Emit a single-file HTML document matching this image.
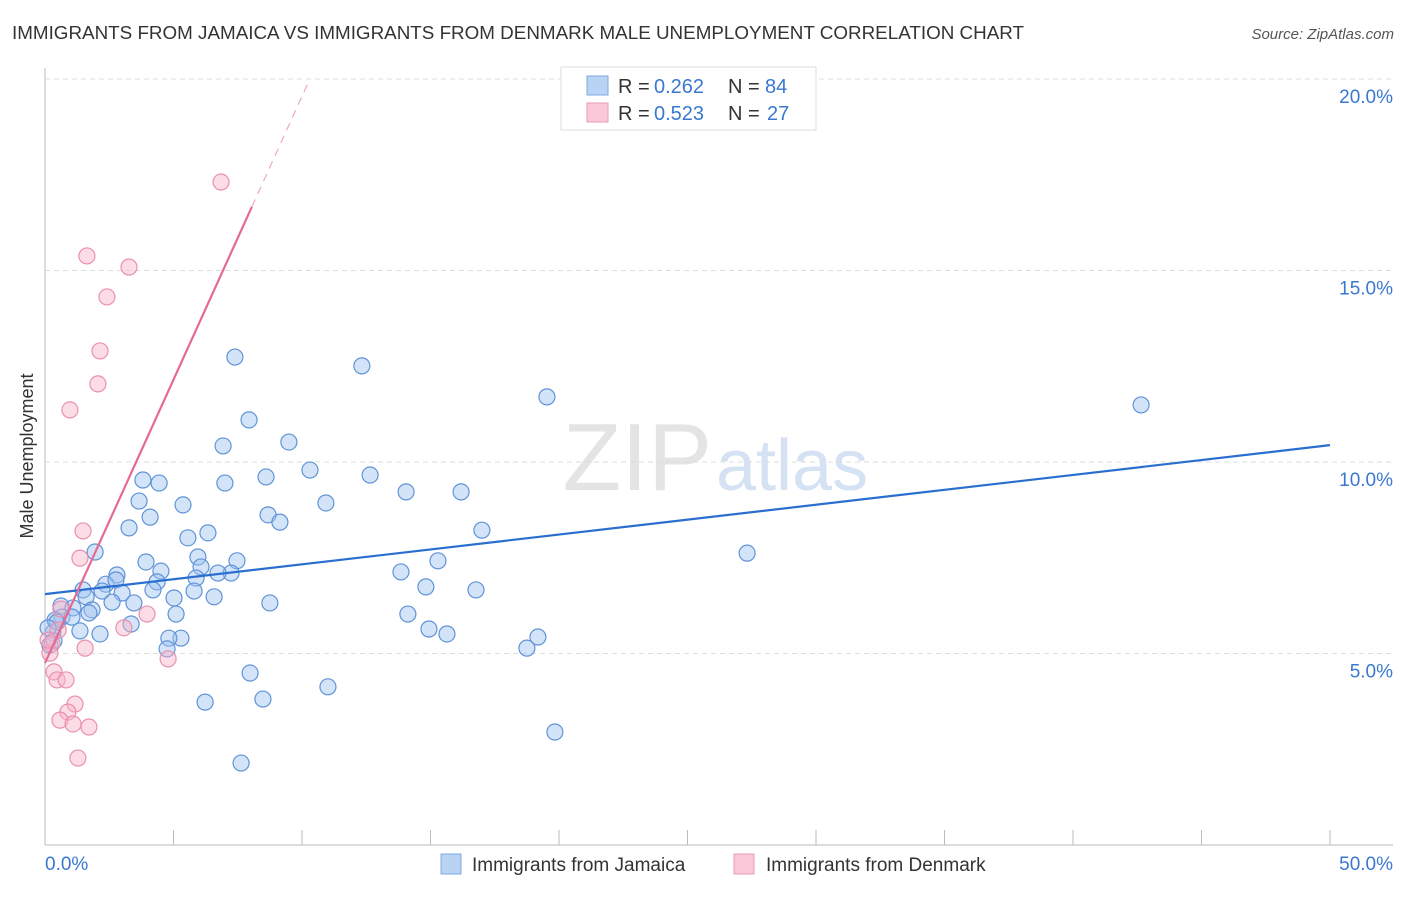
<!DOCTYPE html>
<html><head><meta charset="utf-8"><style>
body{margin:0;background:#fff;font-family:"Liberation Sans",sans-serif}
svg text{font-family:"Liberation Sans",sans-serif}
</style></head><body>
<svg id="chart" width="1406" height="892">
<text x="12" y="39" font-size="18" fill="#333" textLength="1012" lengthAdjust="spacingAndGlyphs">IMMIGRANTS FROM JAMAICA VS IMMIGRANTS FROM DENMARK MALE UNEMPLOYMENT CORRELATION CHART</text>
<text x="1394" y="39" font-size="15" fill="#555" text-anchor="end" font-style="italic">Source: ZipAtlas.com</text>
<text transform="translate(33,456) rotate(-90)" font-size="18" fill="#333" text-anchor="middle">Male Unemployment</text>
<text x="712" y="490" font-size="96" fill="#e4e4e4" text-anchor="end" font-family="Liberation Serif">ZIP</text>
<text x="716" y="490" font-size="72" fill="#d4e2f4">atlas</text>
<g id="grid"></g><g id="marks"></g>
<g>
<rect x="561" y="67" width="255" height="63" fill="#fff" stroke="#ddd"/>
<rect x="587" y="76" width="21" height="19" fill="#b9d3f5" stroke="#7ea8e0"/>
<rect x="587" y="103" width="21" height="19" fill="#fac8d8" stroke="#eb9bb6"/>
<text x="618" y="93" font-size="20" fill="#333">R =</text><text x="654" y="93" font-size="20" fill="#3a78d0">0.262</text>
<text x="728" y="93" font-size="20" fill="#333">N =</text><text x="765" y="93" font-size="20" fill="#3a78d0">84</text>
<text x="618" y="120" font-size="20" fill="#333">R =</text><text x="654" y="120" font-size="20" fill="#3a78d0">0.523</text>
<text x="728" y="120" font-size="20" fill="#333">N =</text><text x="767" y="120" font-size="20" fill="#3a78d0">27</text>
</g>
<g>
<rect x="441" y="854" width="20" height="20" fill="#b9d3f5" stroke="#7ea8e0"/>
<text x="472" y="871" font-size="19" fill="#333">Immigrants from Jamaica</text>
<rect x="734" y="854" width="20" height="20" fill="#fac8d8" stroke="#eb9bb6"/>
<text x="766" y="871" font-size="19" fill="#333">Immigrants from Denmark</text>
</g>
</svg>
<script>
const xTicks=[0,5,10,15,20,25,30,35,40,45,50];
const yTicks=[5,10,15,20];
const blueX=[7.39,12.33,19.53,42.65,7.94,6.93,9.49,10.31,12.65,8.60,7.00,3.81,4.44,14.05,16.19,5.37,10.93,3.66,8.68,9.14,4.09,3.27,17.00,6.34,5.56,1.95,27.32,5.95,3.93,7.47,15.29,4.51,2.80,6.07,7.24,6.73,13.85,4.36,2.37,1.48,5.88,2.76,4.20,14.82,16.77,3.00,2.22,5.80,5.02,6.58,1.60,3.46,2.61,1.83,8.75,0.62,1.09,5.10,14.12,0.66,1.05,0.39,1.71,3.35,1.36,2.14,14.94,15.64,5.29,4.82,19.18,18.75,4.75,0.31,0.19,0.35,7.98,11.01,6.23,8.48,19.84,7.63,0.47,0.12];
const blueY=[12.74,12.51,11.70,11.49,11.10,10.42,10.52,9.79,9.66,9.61,9.45,9.53,9.45,9.22,9.22,8.88,8.93,8.98,8.62,8.43,8.56,8.28,8.22,8.15,8.02,7.65,7.62,7.52,7.39,7.42,7.42,7.15,7.05,7.26,7.10,7.10,7.13,6.87,6.81,6.66,6.97,6.92,6.66,6.74,6.66,6.58,6.63,6.63,6.45,6.48,6.48,6.32,6.34,6.14,6.32,6.24,6.19,6.03,6.03,5.95,5.95,5.87,6.06,5.77,5.59,5.51,5.64,5.51,5.40,5.40,5.43,5.14,5.12,5.54,5.22,5.33,4.49,4.13,3.73,3.81,2.95,2.14,5.82,5.67];
const pinkX=[6.85,1.63,3.27,2.41,2.14,2.06,0.97,1.48,1.36,0.62,3.07,3.97,1.56,4.79,0.27,0.35,0.47,0.82,1.17,0.89,0.58,1.09,1.71,1.28,0.19,0.51,0.12];
const pinkY=[17.31,15.38,15.09,14.31,12.90,12.04,11.36,8.20,7.49,6.16,5.67,6.03,5.14,4.86,5.25,4.52,4.31,4.31,3.68,3.47,3.26,3.16,3.08,2.27,5.01,5.61,5.35];
const blueTrend=[6.55,0.0778];
const pinkTrend=[4.75,1.48];
const pinkSolidEnd=8.05, pinkDashEnd=10.2;
const X=v=>45+v*25.7, Y=v=>845-v*38.3;
const NS='http://www.w3.org/2000/svg';
function mk(t,a,p){const e=document.createElementNS(NS,t);for(const k in a)e.setAttribute(k,a[k]);p.appendChild(e);return e;}
const grid=document.getElementById('grid'), marks=document.getElementById('marks');
let ax=mk('line',{x1:45,y1:68,x2:45,y2:845,stroke:'#bbb'},grid);


let bx=mk('line',{x1:45,y1:845,x2:1393,y2:845,stroke:'#bbb'},grid);


yTicks.forEach(t=>{
 const g=mk('line',{x1:45,x2:1393,y1:Y(t),y2:Y(t),stroke:'#ddd','stroke-dasharray':'5,4'},grid);
 
 
 const l=mk('text',{x:1393,y:Y(t)+24,'font-size':19,fill:'#3a78d0','text-anchor':'end'},grid);
 l.textContent=t.toFixed(1)+'%';
 
 
});
xTicks.forEach(t=>{
 const k=mk('line',{x1:X(t),x2:X(t),y1:830,y2:845,stroke:'#bbb'},grid);
 
 
});
[[0,'0.0%','start',45],[50,'50.0%','end',1393]].forEach(a=>{
 const l=mk('text',{x:a[3],y:870,'font-size':19,fill:'#3a78d0','text-anchor':a[2]},grid);
 l.textContent=a[1];
 
 
});
blueX.forEach((x,i)=>{
 const c=mk('circle',{cx:X(x),cy:Y(blueY[i]),r:8,fill:'rgba(160,195,240,0.45)',stroke:'#5f93d8','stroke-width':1.2},marks);
 
 
});
pinkX.forEach((x,i)=>{
 const c=mk('circle',{cx:X(x),cy:Y(pinkY[i]),r:8,fill:'rgba(248,180,200,0.45)',stroke:'#e990ae','stroke-width':1.2},marks);
 
 
});
let bl=mk('line',{x1:X(0),y1:Y(blueTrend[0]),x2:X(50),y2:Y(blueTrend[0]+50*blueTrend[1]),stroke:'#2a6fd0','stroke-width':2.2},marks);


let pl=mk('line',{x1:X(0),y1:Y(pinkTrend[0]),x2:X(pinkSolidEnd),y2:Y(pinkTrend[0]+pinkSolidEnd*pinkTrend[1]),stroke:'#e46a95','stroke-width':2.2},marks);


let pd=mk('line',{x1:X(pinkSolidEnd),y1:Y(pinkTrend[0]+pinkSolidEnd*pinkTrend[1]),x2:X(pinkDashEnd),y2:Y(pinkTrend[0]+pinkDashEnd*pinkTrend[1]),stroke:'#eeaac2','stroke-width':1.2,'stroke-dasharray':'8,6'},marks);


</script>
</body></html>
